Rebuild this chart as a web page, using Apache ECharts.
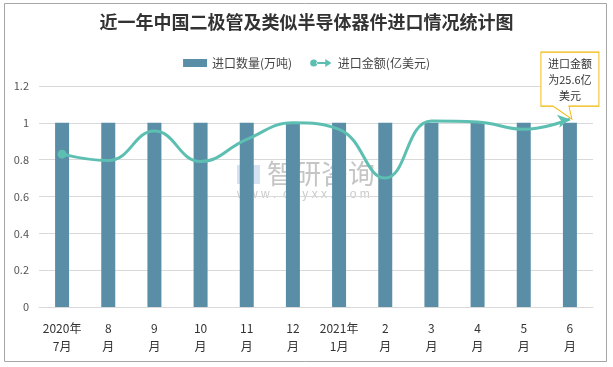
<!DOCTYPE html>
<html><head><meta charset="utf-8">
<script src="https://cdn.jsdelivr.net/npm/echarts@6/dist/echarts.min.js"></script>
<style>html,body{margin:0;padding:0;background:#fff}#c{width:613px;height:367px}</style>
</head><body><div id="c"></div>
<script>
var categories = ['2020年\n7月','8\n月','9\n月','10\n月','11\n月','12\n月','2021年\n1月','2\n月','3\n月','4\n月','5\n月','6\n月'];
var quantity = [1,1,1,1,1,1,1,1,1,1,1,1];
var amount = [0.83,0.795,0.955,0.79,0.91,1.0,0.965,0.70,1.01,1.005,0.965,1.02];
var yTicks = [0,0.2,0.4,0.6,0.8,1,1.2];
var titleText = '近一年中国二极管及类似半导体器件进口情况统计图';
var calloutText = '进口金额\n为25.6亿\n美元';

var chart = echarts.init(document.getElementById('c'), null, {renderer:'canvas'});
var lineData = amount.map(function(v,i){
  var d = {value:v, symbol:'none'};
  if(i===0){ d.symbol='circle'; d.symbolSize=9; }
  if(i===amount.length-1){ d.symbol='arrow'; d.symbolSize=[10,12]; d.symbolRotate=-80; }
  return d;
});
var last = amount.length-1;
chart.setOption({
  animation:false,
  textStyle:{fontFamily:'"Noto Sans CJK SC", sans-serif'},
  title:{text:titleText,left:'center',top:8,textStyle:{fontSize:18,fontWeight:'bold',color:'#333',fontFamily:'"Noto Sans CJK SC"'}},
  legend:{top:52,left:'center',itemGap:18,textStyle:{fontSize:12,color:'#444'},
    data:[{name:'进口数量(万吨)',icon:'rect',itemStyle:{color:'#5a8ea7'}},
          {name:'进口金额(亿美元)',icon:'path://M0,5a4,4 0 1,0 8,0a4,4 0 1,0 -8,0zM7,4h12v2h-12zM17,0.5l7,4.5l-7,4.5z'}],
    itemWidth:24,itemHeight:8},
  grid:{left:39,right:20,top:86,bottom:60},
  xAxis:{type:'category',data:categories,
    axisLine:{lineStyle:{color:'#d9d9d9'}},axisTick:{show:false},
    axisLabel:{interval:0,color:'#333',fontSize:12,lineHeight:18,margin:12}},
  yAxis:{type:'value',min:0,max:1.2,interval:0.2,
    axisLine:{show:false},axisTick:{show:false},
    splitLine:{lineStyle:{color:'#d9d9d9'}},
    axisLabel:{color:'#555',fontSize:11,margin:10,formatter:function(v){var r=Math.round(v*10)/10;return String(r);}}},
  series:[
    {name:'进口数量(万吨)',type:'bar',data:quantity,barWidth:14,itemStyle:{color:'#5a8ea7'},z:3},
    {name:'进口金额(亿美元)',type:'line',data:lineData,smooth:0.45,
      lineStyle:{width:3,color:'#5cbfb1'},itemStyle:{color:'#5cbfb1'},z:4,
      markPoint:{
        symbol:'path://M0,0H58V54H28L31,67L12,54H0Z',
        symbolSize:[58,67],symbolOffset:[0,-33.5],symbolKeepAspect:false,
        itemStyle:{color:'#fff',borderColor:'#f2b705',borderWidth:1},
        label:{show:true,position:'inside',offset:[0,-6],formatter:calloutText,color:'#333',fontSize:11,lineHeight:16},
        data:[{coord:[last, amount[last]]}]
      }}
  ],
  graphic:[
    {type:'rect',shape:{x:4.5,y:3.5,width:602,height:358},style:{fill:'none',stroke:'#a6a6a6',lineWidth:1},z:-10},
    {type:'text',left:267,top:160,z:-1,style:{text:'智研咨询',fontSize:27,fill:'rgba(150,150,150,0.55)',fontFamily:'"Noto Sans CJK SC"'}},
    {type:'text',left:237,top:189,z:-1,style:{text:'w w w .  c h y x x .  c o m',fontSize:12,fill:'rgba(150,150,150,0.5)'}},
    {type:'rect',shape:{x:237,y:165,width:23,height:19},style:{fill:'rgba(120,160,210,0.3)'},z:-1}
  ]
});
</script></body></html>
